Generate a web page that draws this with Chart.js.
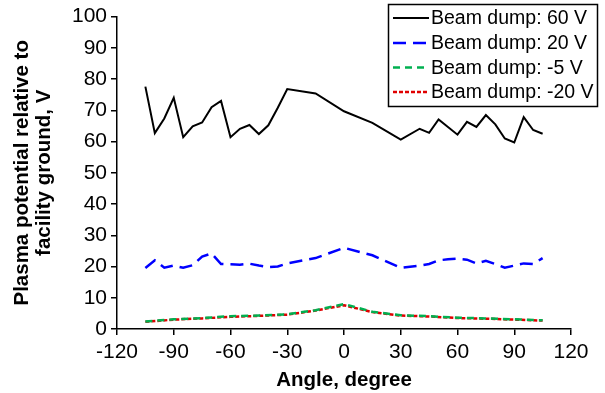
<!DOCTYPE html>
<html>
<head>
<meta charset="utf-8">
<script src="https://cdn.jsdelivr.net/npm/chart.js@4.4.1/dist/chart.umd.min.js"></script>
<style>
html,body{margin:0;padding:0;background:#fff;}
#wrap{width:605px;height:393px;position:relative;}
</style>
</head>
<body>
<div id="wrap"><canvas id="c" width="605" height="393"></canvas></div>
<script>
// ---- data ----
const angles60 = [-105,-100,-95,-90,-85,-80,-75,-70,-65,-60,-55,-50,-45,-40,-35,-30,-15,0,15,30,40,45,50,60,65,70,75,80,85,90,95,100,105];
const dump60 = [77.6,62.7,67.4,74,61.4,64.9,66.1,71,73,61.4,64.1,65.3,62.4,65.2,70.8,76.8,75.4,69.7,66,60.6,64.1,62.8,67.1,62.2,66.3,64.7,68.5,65.5,61,59.7,67.8,63.7,62.5];

const angles20 = [-105,-100,-95,-90,-85,-80,-75,-70,-65,-60,-55,-50,-45,-40,-35,-30,-15,0,15,30,40,45,50,55,60,65,70,75,80,85,90,95,100,105];
const dump20 = [19.5,22,19.6,20.3,19.6,20.4,23.2,24.2,20.8,20.7,20.6,20.9,20.3,19.8,20,21,22.7,26,23.6,19.6,20.3,20.8,22,22.3,22.5,22.2,21,21.8,20.8,19.6,20.3,21,20.8,22.7];

const anglesLow = [-105,-90,-75,-60,-45,-30,-15,0,15,30,45,60,75,90,105];
const dumpMinus5 = [2.4,3.1,3.5,4.1,4.3,4.7,6.0,8.0,5.5,4.4,4.1,3.6,3.4,3.1,2.8];
const dumpMinus20 = [2.3,3.0,3.4,3.9,4.2,4.6,5.9,7.6,5.4,4.3,4.0,3.5,3.3,3.0,2.7];

const seriesNames = ['Beam dump: 60 V','Beam dump: 20 V','Beam dump: -5 V','Beam dump: -20 V'];
const xTicks = [-120,-90,-60,-30,0,30,60,90,120];
const yTicks = [0,10,20,30,40,50,60,70,80,90,100];

const pts = (xs, ys) => xs.map((x, i) => ({x: x, y: ys[i]}));

const FONT = "'Liberation Sans', Arial, sans-serif";

const legendPlugin = {
  id: 'boxLegend',
  afterDraw(chart) {
    const ctx = chart.ctx;
    ctx.save();
    const bx = 388.5, by = 4.5, bw = 209, bh = 102;
    ctx.fillStyle = '#fff';
    ctx.fillRect(bx, by, bw, bh);
    ctx.lineWidth = 1.5;
    ctx.strokeStyle = '#000';
    ctx.setLineDash([]);
    ctx.strokeRect(bx, by, bw, bh);
    const rows = [18, 43, 67.5, 92];
    chart.data.datasets.forEach((ds, i) => {
      const y = rows[i];
      ctx.beginPath();
      ctx.lineWidth = ds.borderWidth;
      ctx.strokeStyle = ds.borderColor;
      ctx.setLineDash(ds.borderDash || []);
      ctx.moveTo(393, y);
      ctx.lineTo(429, y);
      ctx.stroke();
      ctx.setLineDash([]);
      ctx.fillStyle = '#000';
      ctx.font = '19.5px ' + FONT;
      ctx.textBaseline = 'middle';
      ctx.textAlign = 'left';
      ctx.fillText(ds.label, 431, y + 1);
    });
    ctx.restore();
  }
};

new Chart(document.getElementById('c'), {
  type: 'line',
  data: {
    datasets: [
      {label: seriesNames[0], data: pts(angles60, dump60), borderColor: '#000000', borderWidth: 2, pointRadius: 0, tension: 0, fill: false},
      {label: seriesNames[1], data: pts(angles20, dump20), borderColor: '#0000ff', borderWidth: 2.5, borderDash: [13, 7], pointRadius: 0, tension: 0, fill: false},
      {label: seriesNames[2], data: pts(anglesLow, dumpMinus5), borderColor: '#00b050', borderWidth: 2.5, borderDash: [7, 5], pointRadius: 0, tension: 0, fill: false},
      {label: seriesNames[3], data: pts(anglesLow, dumpMinus20), borderColor: '#e00000', borderWidth: 2.5, borderDash: [4, 2], pointRadius: 0, tension: 0, fill: false}
    ]
  },
  options: {
    responsive: false,
    animation: false,
    devicePixelRatio: 1,
    layout: {padding: {left: 0, right: 34, top: 15, bottom: 0}},
    plugins: {legend: {display: false}, tooltip: {enabled: false}},
    scales: {
      x: {
        type: 'linear', min: -120, max: 120,
        afterBuildTicks: (s) => { s.ticks = xTicks.map(v => ({value: v})); },
        afterFit: (s) => { s.height = 64; },
        grid: {drawOnChartArea: false, drawTicks: true, tickLength: 6, color: '#000', lineWidth: 1.5},
        border: {display: true, color: '#000', width: 1.5},
        ticks: {color: '#000', font: {family: FONT, size: 21}, padding: 5, maxRotation: 0, autoSkip: false},
        title: {display: true, text: 'Angle, degree', color: '#000', font: {family: FONT, size: 20.5, weight: 'bold'}, padding: {top: 0, bottom: 0}}
      },
      y: {
        type: 'linear', min: 0, max: 100,
        afterBuildTicks: (s) => { s.ticks = yTicks.map(v => ({value: v})); },
        afterFit: (s) => { s.width = 117; },
        grid: {drawOnChartArea: false, drawTicks: true, tickLength: 6, color: '#000', lineWidth: 1.5},
        border: {display: true, color: '#000', width: 1.5},
        ticks: {color: '#000', font: {family: FONT, size: 21}, padding: 4},
        title: {display: true, text: ['Plasma potential relative to', 'facility ground, V'], color: '#000', font: {family: FONT, size: 20.5, weight: 'bold', lineHeight: 1.1}, padding: {top: 11, bottom: 0}}
      }
    }
  },
  plugins: [legendPlugin]
});
</script>
</body>
</html>
